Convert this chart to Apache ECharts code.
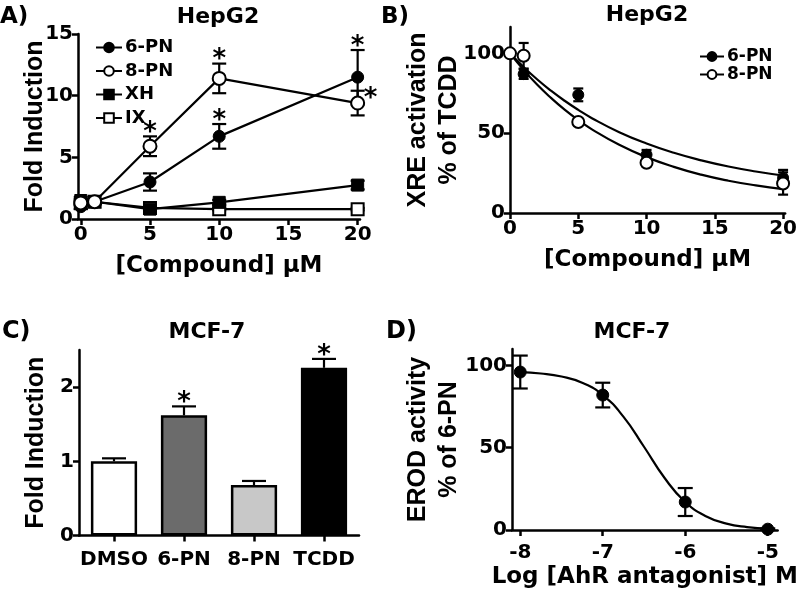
<!DOCTYPE html>
<html><head><meta charset="utf-8">
<script src="https://cdn.jsdelivr.net/npm/echarts@6/dist/echarts.min.js"></script>
<style>html,body{margin:0;padding:0;background:#fff}#c{width:800px;height:594px}</style>
</head><body><div id="c"></div>
<script>
// ---------- Panel A: HepG2 fold induction ----------
const aDoses   = [0, 1, 5, 10, 20];
const a6PN     = [1.0, 1.4, 3.0, 6.7, 11.5];
const a6PNerr  = [0.2, 0.2, 0.7, 1.0, 2.2];
const a8PN     = [1.3, 1.4, 5.9, 11.4, 9.4];
const a8PNerr  = [0.2, 0.2, 0.8, 1.2, 1.0];
const aXH      = [1.5, 1.4, 0.8, 1.35, 2.75];
const aXHerr   = [0.1, 0.1, 0.15, 0.2, 0.35];
const aIX      = [1.3, 1.4, 0.9, 0.8, 0.8];
const aIXerr   = [0.1, 0.1, 0.1, 0.1, 0.1];
const aStarsTop   = [['8-PN', 5], ['6-PN', 10], ['8-PN', 10], ['6-PN', 20]];
const aStarsRight = [['8-PN', 20]];
const aTicks = [0, 5, 10, 15, 20];
const aYTicks = [0, 5, 10, 15];

// ---------- Panel B: HepG2 XRE activation ----------
const bDoses    = [0, 1, 5, 10, 20];
const b6PN      = [100, 87, 74, 36.5, 22];
const b6PNerr   = [1, 3, 4, 3, 5];
const b8PN      = [100, 98.5, 57, 31.5, 18.5];
const b8PNerr   = [1, 8, 1.5, 2, 7];
const bFitDoses = [0, 1, 2, 3, 4, 5, 6, 8, 10, 12, 14, 16, 18, 20];
const b6PNfit   = [100, 91.4, 83.6, 76.6, 70.3, 64.6, 59.4, 50.6, 43.5, 37.7, 33.0, 29.1, 26.0, 23.5];
const b8PNfit   = [100, 89.6, 80.3, 72.1, 64.7, 58.2, 52.4, 42.7, 35.0, 28.9, 24.0, 20.2, 17.3, 15.0];
const bTicks = [0, 5, 10, 15, 20];
const bYTicks = [0, 50, 100];

// ---------- Panel C: MCF-7 fold induction ----------
const cCats   = ['DMSO', '6-PN', '8-PN', 'TCDD'];
const cVals   = [1.0, 1.62, 0.68, 2.26];
const cErr    = [0.04, 0.12, 0.055, 0.12];
const cStars  = ['6-PN', 'TCDD'];
const cYTicks = [0, 1, 2];

// ---------- Panel D: MCF-7 EROD activity ----------
const dLog    = [-8, -7, -6, -5];
const dVals   = [96, 82, 17, 0.5];
const dErr    = [10, 7.5, 8.5, 0.5];
const dFitLog = [-8, -7.75, -7.5, -7.25, -7, -6.75, -6.5, -6.25, -6, -5.75, -5.5, -5.25, -5];
const dFit    = [95.9, 95.1, 93.3, 89.5, 82, 68.9, 50.6, 31.6, 17, 8.4, 3.9, 1.8, 0.8];
const dTicks  = [-8, -7, -6, -5];
const dYTicks = [0, 50, 100];

const BLACK = '#000';

function valAxis(grid, min, max, ticks, name, gap, isY, labelMargin) {
  const ax = {
    type: 'value', gridIndex: grid, min: min, max: max,
    axisLine: { show: true, onZero: false, lineStyle: { color: BLACK, width: 2.5 } },
    axisTick: { show: true, inside: false, length: 6, customValues: ticks, lineStyle: { color: BLACK, width: 2.5 } },
    axisLabel: { color: BLACK, fontFamily: 'DejaVu Sans', fontWeight: 'bold', fontSize: 20, margin: labelMargin || 5, customValues: ticks },
    splitLine: { show: false },
    name: name, nameLocation: 'middle', nameGap: gap, nameMoveOverlap: false,
    nameTextStyle: isY
      ? { color: BLACK, fontFamily: 'Liberation Sans', fontWeight: 'bold', fontSize: 25, lineHeight: 31, align: 'center' }
      : { color: BLACK, fontFamily: 'DejaVu Sans', fontWeight: 'bold', fontSize: 23 }
  };
  if (isY) ax.nameRotate = 90;
  return ax;
}

function errSeries(xi, yi, xs, ys, es, capW, both, z) {
  return {
    type: 'custom', xAxisIndex: xi, yAxisIndex: yi, z: z || 1, silent: true,
    data: xs.map((x, i) => [x, both ? ys[i] - es[i] : ys[i], ys[i] + es[i]]),
    renderItem: function (params, api) {
      const x = api.value(0), lo = api.value(1), hi = api.value(2);
      const pH = api.coord([x, hi]), pL = api.coord([x, lo]);
      const st = { stroke: BLACK, lineWidth: 2.2 };
      const ch = [
        { type: 'line', shape: { x1: pH[0], y1: pH[1], x2: pL[0], y2: pL[1] }, style: st },
        { type: 'line', shape: { x1: pH[0] - capW / 2, y1: pH[1], x2: pH[0] + capW / 2, y2: pH[1] }, style: st }
      ];
      if (both) ch.push({ type: 'line', shape: { x1: pL[0] - capW / 2, y1: pL[1], x2: pL[0] + capW / 2, y2: pL[1] }, style: st });
      return { type: 'group', children: ch };
    }
  };
}

function starSeries(xi, yi, pts, side) {
  return {
    type: 'custom', xAxisIndex: xi, yAxisIndex: yi, z: 5, silent: true,
    data: pts,
    renderItem: function (params, api) {
      const p = api.coord([api.value(0), api.value(1)]);
      const right = side === 'right';
      return {
        type: 'text', x: p[0] + (right ? 13 : 0), y: p[1] + (right ? 9 : -3),
        style: { text: '*', fill: BLACK, font: 'bold 26px "DejaVu Sans"', align: 'center', verticalAlign: 'middle' }
      };
    }
  };
}

const aY = { '6-PN': a6PN, '8-PN': a8PN }, aE = { '6-PN': a6PNerr, '8-PN': a8PNerr };
function starTops(list) {
  return list.map(([n, x]) => { const i = aDoses.indexOf(x); return [x, aY[n][i] + aE[n][i]]; });
}

const pair = (xs, ys) => xs.map((x, i) => [x, ys[i]]);

const openCircle = { color: '#fff', borderColor: BLACK, borderWidth: 2, opacity: 1 };
const filled = { color: BLACK, borderColor: BLACK, borderWidth: 1, opacity: 1 };
const lineSt = { color: BLACK, width: 2.2 };

function lineSer(name, xi, yi, data, symbol, item, size) {
  return {
    name: name, type: 'line', xAxisIndex: xi, yAxisIndex: yi, data: data,
    symbol: symbol, symbolSize: size || 12, showAllSymbol: true,
    itemStyle: item, lineStyle: lineSt, z: 3
  };
}

const series = [
  // Panel A
  errSeries(0, 0, aDoses, a6PN, a6PNerr, 14, true),
  errSeries(0, 0, aDoses, a8PN, a8PNerr, 14, true),
  errSeries(0, 0, aDoses, aXH, aXHerr, 14, true),
  errSeries(0, 0, aDoses, aIX, aIXerr, 14, true),
  lineSer('IX', 0, 0, pair(aDoses, aIX), 'rect', openCircle, 12),
  lineSer('XH', 0, 0, pair(aDoses, aXH), 'rect', filled, 12),
  lineSer('6-PN', 0, 0, pair(aDoses, a6PN), 'circle', filled, 12),
  lineSer('8-PN', 0, 0, pair(aDoses, a8PN), 'circle', openCircle, 13),
  starSeries(0, 0, starTops(aStarsTop), 'top'),
  starSeries(0, 0, starTops(aStarsRight), 'right'),
  // Panel B
  errSeries(1, 1, bDoses, b6PN, b6PNerr, 10, true),
  errSeries(1, 1, bDoses, b8PN, b8PNerr, 10, true),
  { name: 'B 6-PN fit', type: 'line', xAxisIndex: 1, yAxisIndex: 1, data: pair(bFitDoses, b6PNfit), smooth: true, symbol: 'none', lineStyle: lineSt, z: 2 },
  { name: 'B 8-PN fit', type: 'line', xAxisIndex: 1, yAxisIndex: 1, data: pair(bFitDoses, b8PNfit), smooth: true, symbol: 'none', lineStyle: lineSt, z: 2 },
  { name: 'B 6-PN', type: 'scatter', xAxisIndex: 1, yAxisIndex: 1, data: pair(bDoses, b6PN), symbol: 'circle', symbolSize: 11, itemStyle: filled, z: 4 },
  { name: 'B 8-PN', type: 'scatter', xAxisIndex: 1, yAxisIndex: 1, data: pair(bDoses, b8PN), symbol: 'circle', symbolSize: 12, itemStyle: openCircle, z: 4 },
  // Panel C
  {
    type: 'bar', xAxisIndex: 2, yAxisIndex: 2, barWidth: '66%', z: 2,
    data: cVals.map((v, i) => ({ value: v, itemStyle: { color: ['#ffffff', '#6b6b6b', '#c8c8c8', '#000000'][i], borderColor: BLACK, borderWidth: 2.5 } }))
  },
  errSeries(2, 2, cCats.map((c, i) => i), cVals, cErr, 24, false, 3),
  starSeries(2, 2, cStars.map(c => { const i = cCats.indexOf(c); return [i, cVals[i] + cErr[i]]; }), 'top'),
  // Panel D
  errSeries(3, 3, dLog, dVals, dErr, 15, true),
  { name: 'D fit', type: 'line', xAxisIndex: 3, yAxisIndex: 3, data: pair(dFitLog, dFit), smooth: true, symbol: 'none', lineStyle: lineSt, z: 2 },
  { name: 'D pts', type: 'scatter', xAxisIndex: 3, yAxisIndex: 3, data: pair(dLog, dVals), symbol: 'circle', symbolSize: 12, itemStyle: filled, z: 4 }
];

const txt = (t, x, y, size, align) => ({
  type: 'text', x: x, y: y,
  style: { text: t, fill: BLACK, font: 'bold ' + size + 'px "DejaVu Sans"', align: align || 'center', verticalAlign: 'middle' }
});

const option = {
  animation: false,
  backgroundColor: '#fff',
  grid: [
    { left: 78, top: 34, width: 282, height: 185 },
    { left: 510, top: 27, width: 280, height: 186 },
    { left: 79, top: 350, width: 280, height: 185.5 },
    { left: 512, top: 349, width: 280, height: 181 }
  ],
  xAxis: [
    valAxis(0, -0.2, 20.17, aTicks, '[Compound] \u03bcM', 36, false, 6),
    valAxis(1, 0, 20.15, bTicks, '[Compound] \u03bcM', 36, false, 6),
    {
      type: 'category', gridIndex: 2, data: cCats,
      axisLine: { show: true, lineStyle: { color: BLACK, width: 2.5 } },
      axisTick: { show: true, alignWithLabel: true, length: 6, lineStyle: { color: BLACK, width: 2.5 } },
      axisLabel: { color: BLACK, fontFamily: 'DejaVu Sans', fontWeight: 'bold', fontSize: 20, margin: 14, interval: 0 },
      splitLine: { show: false }
    },
    valAxis(3, -8.1, -4.88, dTicks, 'Log [AhR antagonist] M', 36, false, 13)
  ],
  yAxis: [
    valAxis(0, 0, 15, aYTicks, 'Fold Induction', 27, true),
    valAxis(1, 0, 116.5, bYTicks, 'XRE activation\n% of TCDD', 45, true),
    valAxis(2, 0, 2.5, cYTicks, 'Fold Induction', 27, true),
    valAxis(3, 0, 110, dYTicks, 'EROD activity\n% of 6-PN', 47, true)
  ],
  legend: [
    {
      data: ['6-PN', '8-PN', 'XH', 'IX'], orient: 'vertical', left: 90, top: 33,
      itemWidth: 26, itemHeight: 12, itemGap: 4.5, selectedMode: false,
      textStyle: { color: BLACK, fontFamily: 'DejaVu Sans', fontWeight: 'bold', fontSize: 18, lineHeight: 19, padding: [0, 0, 0, -2] }
    },
    {
      data: ['6-PN', '8-PN'], orient: 'vertical', left: 694, top: 43,
      itemWidth: 24, itemHeight: 11, itemGap: 1, selectedMode: false,
      textStyle: { color: BLACK, fontFamily: 'DejaVu Sans', fontWeight: 'bold', fontSize: 17, lineHeight: 17, padding: [0, 0, 0, -2] }
    }
  ],
  graphic: [
    txt('A)', 0, 17, 23, 'left'),
    txt('HepG2', 218, 17, 22),
    txt('B)', 381, 17, 23, 'left'),
    txt('HepG2', 647, 15, 22),
    txt('C)', 2, 332, 24, 'left'),
    txt('MCF-7', 207, 332, 22),
    txt('D)', 386, 332, 24, 'left'),
    txt('MCF-7', 632, 332, 22)
  ],
  series: series
};

const chart = echarts.init(document.getElementById('c'));
chart.setOption(option);
</script>
</body></html>
